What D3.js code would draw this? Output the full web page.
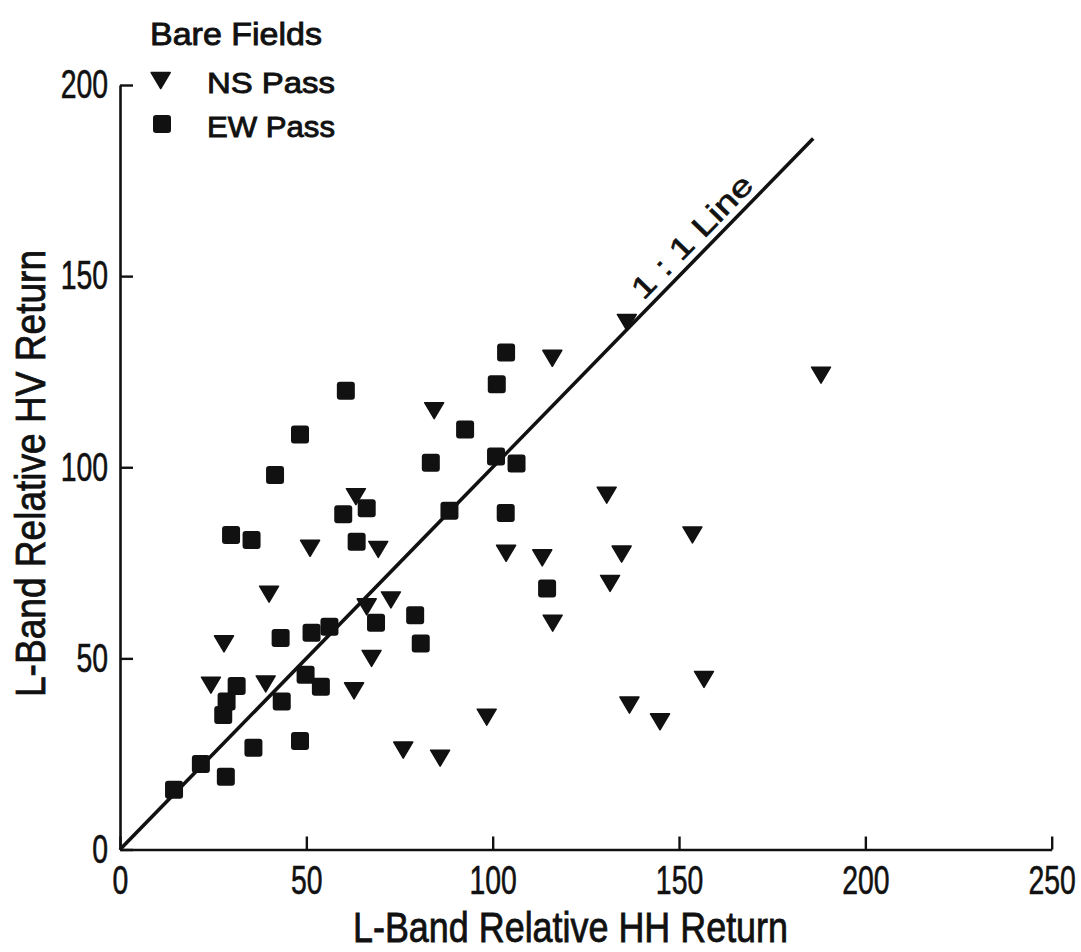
<!DOCTYPE html>
<html>
<head>
<meta charset="utf-8">
<script src="https://cdn.jsdelivr.net/npm/d3@7"></script>
<style>
  body { margin: 0; background: #fff; }
  text { font-family: "Liberation Sans", Arial, sans-serif; fill: #111; }
</style>
</head>
<body>
<div id="chart"></div>
<script>
// NS pass (triangles): [HH, HV]
const nsPass = [
  [84.3, 114.8], [116.0, 128.5], [136.0, 137.9], [188.1, 124.1],
  [63.3, 92.3], [51.0, 78.8], [69.3, 78.5], [40.0, 66.8],
  [72.7, 65.3], [66.2, 63.5], [27.9, 53.8], [67.5, 50.0],
  [24.4, 43.0], [39.1, 43.3], [62.8, 41.5], [76.0, 26.0],
  [85.9, 23.9], [98.4, 34.6], [103.6, 77.5], [113.3, 76.3],
  [130.6, 92.7], [134.6, 77.3], [131.5, 69.6], [116.1, 59.2],
  [153.6, 82.3], [156.7, 44.5], [136.7, 37.8], [144.9, 33.4]
];

// EW pass (squares): [HH, HV]
const ewPass = [
  [60.6, 120.0], [48.3, 108.6], [83.4, 101.2], [41.6, 98.0],
  [66.2, 89.3], [59.9, 87.7], [88.4, 88.6], [29.8, 82.3],
  [35.3, 81.0], [63.5, 80.5], [79.2, 61.3], [68.7, 59.3],
  [80.7, 53.9], [43.1, 55.3], [51.4, 56.7], [56.2, 58.3],
  [31.3, 42.8], [28.6, 38.7], [27.7, 35.2], [43.4, 38.7],
  [49.8, 45.7], [53.9, 42.6], [48.3, 28.4], [35.8, 26.6],
  [21.7, 22.4], [28.4, 19.0], [14.5, 15.6], [103.6, 130.0],
  [101.1, 121.7], [92.6, 109.9], [100.9, 102.8], [106.4, 101.0],
  [103.5, 88.0], [114.6, 68.3]
];

const xTicks = [0, 50, 100, 150, 200, 250];
const yTicks = [0, 50, 100, 150, 200];
const oneToOne = [0, 186];
const legendTitle = "Bare Fields";
const legendItems = ["NS Pass", "EW Pass"];
const xTitle = "L-Band Relative HH Return";
const yTitle = "L-Band Relative HV Return";
const lineLabel = "1 : 1 Line";

var width = 1081,
    height = 952;

const svg = d3.select("#chart")
  .append("svg")
    .attr("width", width)
    .attr("height", height);

svg.append("rect").attr("width", width).attr("height", height).attr("fill", "#fff");

const x = d3.scaleLinear().domain([0, 250]).range([120, 1051.7]);
const y = d3.scaleLinear().domain([0, 200]).range([849.5, 85]);

// digits in the original are very condensed, squeeze them horizontally
const squeeze = 0.71;

const xAxis = svg.append("g")
    .attr("transform", "translate(0," + y(0) + ")")
    .call(d3.axisBottom(x).tickValues(xTicks).tickSizeInner(-13).tickSizeOuter(0).tickPadding(16));

const yAxis = svg.append("g")
    .attr("transform", "translate(" + x(0) + ",0)")
    .call(d3.axisLeft(y).tickValues(yTicks).tickSizeInner(-13).tickSizeOuter(0).tickPadding(12));

[xAxis, yAxis].forEach(function(ax) {
  ax.select(".domain").attr("stroke", "#111").attr("stroke-width", 2.6);
  ax.selectAll(".tick line").attr("stroke", "#111").attr("stroke-width", 2.4);
  ax.selectAll(".tick text")
    .attr("fill", "#111")
    .attr("stroke", "#111")
    .attr("stroke-width", 0.6)
    .style("font-size", "40px")
    .attr("font-family", null)
    .attr("transform", "scale(" + squeeze + ",1)");
});
yAxis.selectAll(".tick text").attr("x", -12 / squeeze);

// 1:1 line
svg.append("path")
    .datum(oneToOne)
    .attr("fill", "none")
    .attr("stroke", "#111")
    .attr("stroke-width", 3.6)
    .attr("d", d3.line().x(d => x(d)).y(d => y(d)));

const ang = Math.atan2(y(100) - y(0), x(100) - x(0)) * 180 / Math.PI;
svg.append("text")
    .attr("transform", "translate(" + x(157) + "," + y(157) + ") rotate(" + ang + ")")
    .attr("y", -8)
    .attr("text-anchor", "middle")
    .style("font-size", "30px")
    .attr("stroke", "#111")
    .attr("stroke-width", 0.6)
    .attr("textLength", 160)
    .attr("lengthAdjust", "spacingAndGlyphs")
    .text(lineLabel);

// markers
function triPath(w, h) {
  return "M" + (-w / 2) + "," + (-h / 2) + "L" + (w / 2) + "," + (-h / 2) + "L0," + (h / 2) + "Z";
}

svg.append("g")
  .selectAll("path")
  .data(nsPass)
  .join("path")
    .attr("transform", d => "translate(" + x(d[0]) + "," + y(d[1]) + ")")
    .attr("d", triPath(19, 16))
    .attr("fill", "#111")
    .attr("stroke", "#111")
    .attr("stroke-width", 1.5)
    .attr("stroke-linejoin", "round");

svg.append("g")
  .selectAll("rect")
  .data(ewPass)
  .join("rect")
    .attr("x", d => x(d[0]) - 9)
    .attr("y", d => y(d[1]) - 9)
    .attr("width", 18)
    .attr("height", 18)
    .attr("rx", 3)
    .attr("fill", "#111");

// legend
const lg = svg.append("g");
lg.append("text")
    .attr("x", 150).attr("y", 45)
    .style("font-size", "32px")
    .attr("stroke", "#111")
    .attr("stroke-width", 0.9)
    .attr("textLength", 172)
    .attr("lengthAdjust", "spacingAndGlyphs")
    .text(legendTitle);

lg.selectAll(".item")
  .data(legendItems)
  .join("text")
    .attr("class", "item")
    .attr("x", 207)
    .attr("y", (d, i) => 93 + i * 44)
    .style("font-size", "30px")
    .attr("stroke", "#111")
    .attr("stroke-width", 0.9)
    .attr("textLength", 128)
    .attr("lengthAdjust", "spacingAndGlyphs")
    .text(d => d);

lg.append("path")
    .attr("transform", "translate(160.7,80.5)")
    .attr("d", triPath(19, 16))
    .attr("fill", "#111")
    .attr("stroke", "#111")
    .attr("stroke-width", 1.5)
    .attr("stroke-linejoin", "round");

lg.append("rect")
    .attr("x", 153).attr("y", 115)
    .attr("width", 18).attr("height", 18)
    .attr("rx", 3)
    .attr("fill", "#111");

// axis titles
svg.append("text")
    .attr("x", 570.5).attr("y", 942)
    .attr("text-anchor", "middle")
    .style("font-size", "42px")
    .attr("stroke", "#111")
    .attr("stroke-width", 0.8)
    .attr("textLength", 435)
    .attr("lengthAdjust", "spacingAndGlyphs")
    .text(xTitle);

svg.append("text")
    .attr("transform", "translate(45,473.5) rotate(-90)")
    .attr("text-anchor", "middle")
    .style("font-size", "42px")
    .attr("stroke", "#111")
    .attr("stroke-width", 0.8)
    .attr("textLength", 447)
    .attr("lengthAdjust", "spacingAndGlyphs")
    .text(yTitle);
</script>
</body>
</html>
